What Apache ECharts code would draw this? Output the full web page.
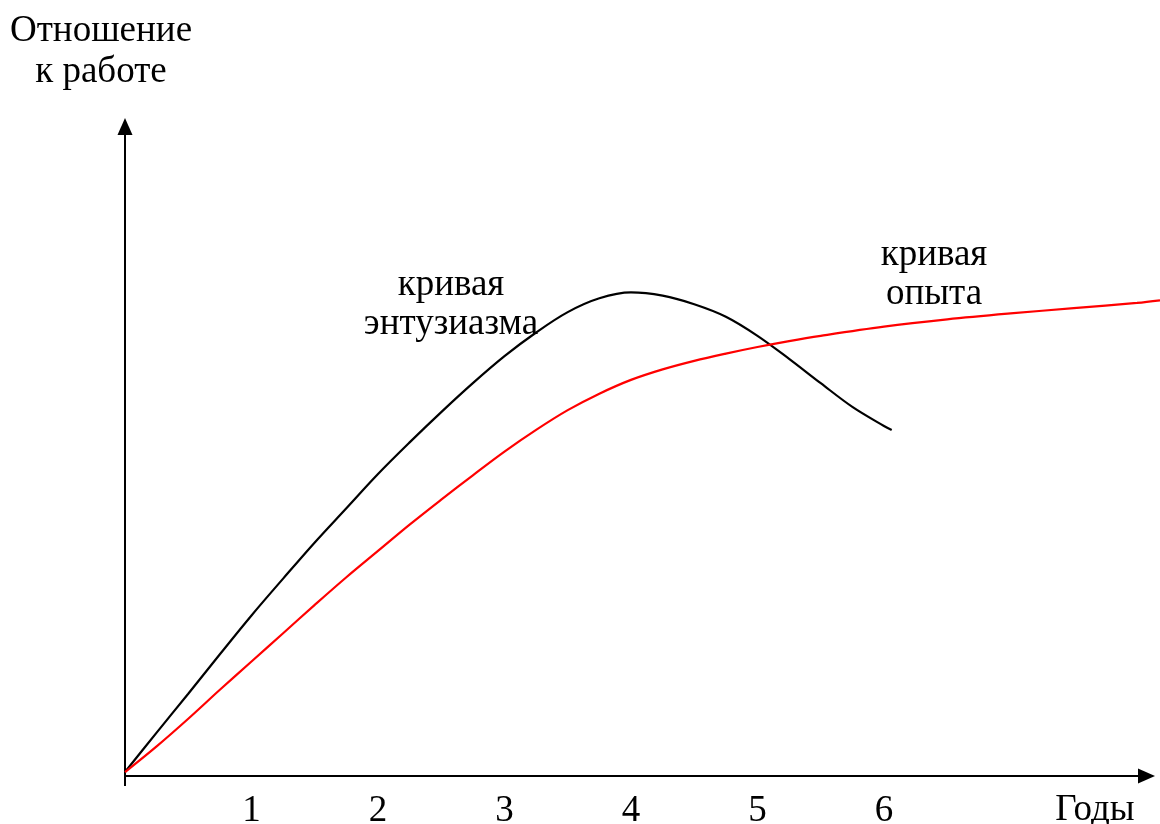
<!DOCTYPE html>
<html>
<head>
<meta charset="utf-8">
<script src="https://cdn.jsdelivr.net/npm/echarts@6/dist/echarts.min.js"></script>
<style>
html,body{margin:0;padding:0;background:#fff;}
#chart{width:1160px;height:824px;}
</style>
</head>
<body>
<div id="chart"></div>
<script>
// Years (x) and attitude-to-work level (y, arbitrary units)
const xTickLabels = [1, 2, 3, 4, 5, 6];
const enthusiasmX = [0, 0.25, 0.5, 0.75, 1, 1.25, 1.5, 1.75, 2, 2.25, 2.5, 2.75, 3, 3.25, 3.5, 3.75, 4, 4.25, 4.5, 4.75, 5, 5.25, 5.5, 5.75, 6, 6.061];
const enthusiasmY = [0.6, 6.6, 12.5, 18.5, 24.4, 30.0, 35.5, 40.7, 45.9, 50.7, 55.3, 59.7, 63.8, 67.4, 70.5, 72.6, 73.5, 73.0, 71.7, 69.8, 66.9, 63.4, 59.7, 56.1, 53.2, 52.6];
const experienceX = [0, 0.25, 0.5, 0.75, 1, 1.25, 1.5, 1.75, 2, 2.25, 2.5, 2.75, 3, 3.25, 3.5, 3.75, 4, 4.25, 4.5, 4.75, 5, 5.25, 5.5, 6, 6.5, 7, 7.5, 8, 8.182];
const experienceY = [0.6, 4.5, 8.7, 13.1, 17.4, 21.7, 26.0, 30.2, 34.2, 38.2, 42.0, 45.7, 49.3, 52.6, 55.6, 58.1, 60.2, 61.8, 63.1, 64.2, 65.2, 66.1, 66.9, 68.3, 69.4, 70.3, 71.1, 71.9, 72.3];

const yTitle = 'Отношение\nк работе';
const xTitle = 'Годы';
const enthusiasmLabel = 'кривая\nэнтузиазма';
const experienceLabel = 'кривая\nопыта';

const FONT = '"Liberation Serif", "Times New Roman", serif';

function zip(xs, ys) { return xs.map((x, i) => [x, ys[i]]); }

const chart = echarts.init(document.getElementById('chart'), null, {renderer: 'canvas'});
const option = {
  backgroundColor: '#ffffff',
  animation: false,
  grid: [
    // grid with the drawn axes (arrows)
    {left: 125, right: 13.5, top: 126.5, bottom: 48, containLabel: false, outerBoundsMode: 'none'},
    // same scale, extended to the right page edge, for the curves
    {left: 125, right: 0, top: 126.5, bottom: 48, containLabel: false, outerBoundsMode: 'none'}
  ],
  xAxis: [
    {
      gridIndex: 0, type: 'value', min: 0, max: 8.075, interval: 1,
      splitLine: {show: false},
      axisLine: {show: true, onZero: false, symbol: ['none', 'triangle'], symbolSize: [15, 17],
        lineStyle: {color: '#000', width: 2}},
      axisTick: {show: true, customValues: [0], length: 10, lineStyle: {color: '#000', width: 2}},
      axisLabel: {show: true, customValues: xTickLabels, margin: 17, color: '#000',
        fontSize: 37, fontFamily: FONT}
    },
    {gridIndex: 1, type: 'value', min: 0, max: 8.182, show: false}
  ],
  yAxis: [
    {
      gridIndex: 0, type: 'value', min: 0, max: 98.71,
      splitLine: {show: false},
      axisLine: {show: true, onZero: false, symbol: ['none', 'triangle'], symbolSize: [15, 17],
        lineStyle: {color: '#000', width: 2}},
      axisTick: {show: false},
      axisLabel: {show: false}
    },
    {gridIndex: 1, type: 'value', min: 0, max: 98.71, show: false}
  ],
  series: [
    {
      type: 'line', name: 'кривая энтузиазма', xAxisIndex: 1, yAxisIndex: 1,
      data: zip(enthusiasmX, enthusiasmY),
      smooth: 0.35, showSymbol: false, symbol: 'none', clip: false,
      lineStyle: {color: '#000', width: 2.2}
    },
    {
      type: 'line', name: 'кривая опыта', xAxisIndex: 1, yAxisIndex: 1,
      data: zip(experienceX, experienceY),
      smooth: 0.35, showSymbol: false, symbol: 'none', clip: false,
      lineStyle: {color: '#ff0000', width: 2.2}
    }
  ],
  graphic: [
    {type: 'text', x: 101, y: 51.5, style: {text: yTitle, font: '37px ' + FONT, lineHeight: 41,
      fill: '#000', align: 'center', verticalAlign: 'middle'}},
    {type: 'text', x: 1095, y: 810, style: {text: xTitle, font: '37px ' + FONT,
      fill: '#000', align: 'center', verticalAlign: 'middle'}},
    {type: 'text', x: 451, y: 304.5, style: {text: enthusiasmLabel, font: '37px ' + FONT, lineHeight: 39,
      fill: '#000', align: 'center', verticalAlign: 'middle'}},
    {type: 'text', x: 934, y: 275, style: {text: experienceLabel, font: '37px ' + FONT, lineHeight: 39,
      fill: '#000', align: 'center', verticalAlign: 'middle'}}
  ]
};
chart.setOption(option);
</script>
</body>
</html>
